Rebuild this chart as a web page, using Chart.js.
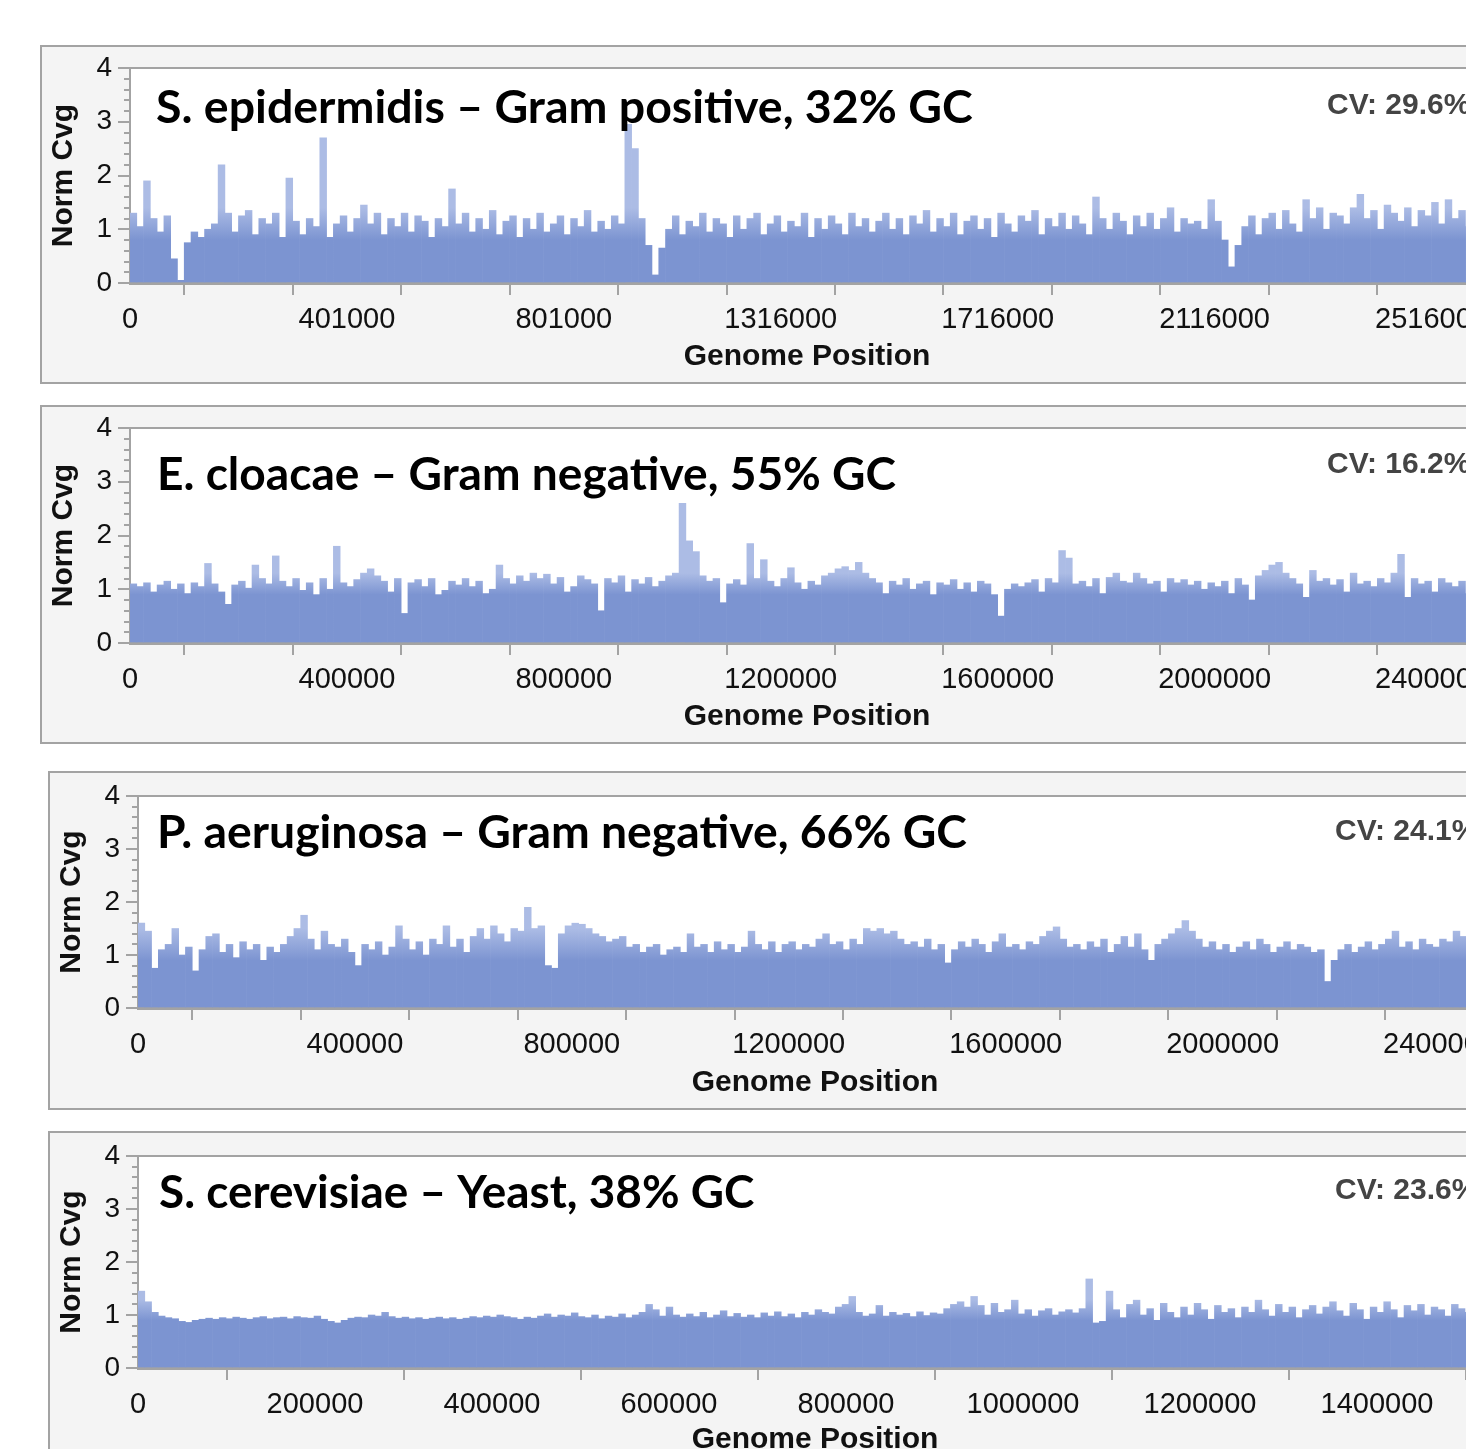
<!DOCTYPE html>
<html>
<head>
<meta charset="utf-8">
<script src="https://cdn.jsdelivr.net/npm/chart.js@4/dist/chart.umd.min.js"></script>
<style>
  html, body { margin: 0; background: #fff; }
  body { width: 1466px; height: 1449px; overflow: hidden; position: relative; }
  canvas { position: absolute; }
</style>
</head>
<body>
<canvas id="c1" width="1530" height="339" style="left:40px;top:45px"></canvas>
<canvas id="c2" width="1530" height="339" style="left:40px;top:405px"></canvas>
<canvas id="c3" width="1530" height="339" style="left:48px;top:771px"></canvas>
<canvas id="c4" width="1530" height="339" style="left:48px;top:1131px"></canvas>
<script>
// normalised coverage per genome bin
const epidermidisBin = 12500;
const epidermidisCvg = [
  1.3, 1.05, 1.9, 1.2, 0.95, 1.25, 0.45, 0.05, 0.75, 0.95,
  0.85, 1.0, 1.1, 2.2, 1.3, 0.95, 1.25, 1.35, 0.9, 1.2,
  1.1, 1.3, 0.85, 1.95, 1.15, 0.9, 1.2, 1.05, 2.7, 0.85,
  1.1, 1.25, 0.95, 1.2, 1.45, 1.1, 1.3, 0.9, 1.2, 1.05,
  1.3, 0.95, 1.25, 1.15, 0.85, 1.2, 1.05, 1.75, 1.1, 1.3,
  0.95, 1.2, 1.0, 1.35, 0.9, 1.15, 1.25, 0.85, 1.2, 1.0,
  1.3, 0.95, 1.1, 1.25, 0.9, 1.2, 1.05, 1.35, 0.95, 1.15,
  1.0, 1.25, 1.1, 2.95, 2.5, 1.2, 0.7, 0.15, 0.65, 1.0,
  1.25, 0.9, 1.15, 1.05, 1.3, 0.95, 1.2, 1.1, 0.85, 1.25,
  1.0, 1.2, 1.3, 0.9, 1.1, 1.25, 0.95, 1.15, 1.05, 1.3,
  0.85, 1.2, 1.0, 1.25, 1.1, 0.9, 1.3, 1.05, 1.2, 0.95,
  1.15, 1.3, 1.0, 1.2, 0.9, 1.25, 1.1, 1.35, 0.95, 1.2,
  1.05, 1.3, 0.9, 1.15, 1.25, 1.0, 1.2, 0.85, 1.3, 1.1,
  0.95, 1.25, 1.15, 1.35, 0.9, 1.2, 1.05, 1.3, 1.0, 1.25,
  1.1, 0.9, 1.6, 1.2, 1.0, 1.3, 1.15, 0.9, 1.25, 1.05,
  1.3, 1.0, 1.2, 1.4, 0.95, 1.2, 1.1, 1.15, 1.0, 1.55,
  1.15, 0.8, 0.3, 0.7, 1.05, 1.25, 0.9, 1.2, 1.3, 1.0,
  1.35, 1.1, 0.95, 1.55, 1.2, 1.4, 1.0, 1.3, 1.25, 1.1,
  1.4, 1.65, 1.2, 1.35, 1.0, 1.45, 1.3, 1.15, 1.4, 1.05,
  1.35, 1.25, 1.5, 1.1, 1.55, 1.2, 1.35, 1.05, 1.45, 1.3
];

const cloacaeBin = 12500;
const cloacaeCvg = [
  1.1, 1.05, 1.12, 0.95, 1.08, 1.15, 1.0, 1.1, 0.92, 1.12,
  1.05, 1.48, 1.1, 0.95, 0.72, 1.08, 1.15, 1.02, 1.45, 1.2,
  1.1, 1.62, 1.15, 1.05, 1.2, 0.98, 1.12, 0.9, 1.2, 1.0,
  1.8, 1.12, 1.05, 1.18, 1.3, 1.38, 1.25, 1.15, 0.95, 1.2,
  0.55, 1.12, 1.18, 1.05, 1.2, 0.9, 0.98, 1.15, 1.08, 1.2,
  1.05, 1.15, 0.92, 1.0, 1.45, 1.2, 1.1, 1.25, 1.15, 1.3,
  1.2, 1.28, 1.1, 1.22, 0.95, 1.05, 1.25, 1.18, 1.1, 0.6,
  1.2, 1.12, 1.25, 0.95, 1.18, 1.1, 1.22, 1.05, 1.15, 1.25,
  1.3, 2.6, 1.9, 1.7, 1.25, 1.15, 1.2, 0.75, 1.1, 1.18,
  1.08, 1.85, 1.2, 1.55, 1.15, 1.05, 1.2, 1.4, 1.12, 1.0,
  1.15, 1.08, 1.25, 1.3, 1.38, 1.42, 1.35, 1.5, 1.3, 1.2,
  1.12, 0.92, 1.15, 1.08, 1.2, 1.0, 1.1, 1.15, 0.9, 1.12,
  1.08, 1.18, 1.0, 1.12, 0.95, 1.15, 1.1, 0.9, 0.5, 1.0,
  1.1, 1.05, 1.12, 1.18, 0.95, 1.2, 1.12, 1.72, 1.58, 1.1,
  1.15, 1.05, 1.2, 0.92, 1.22, 1.3, 1.15, 1.12, 1.3, 1.2,
  1.1, 1.15, 0.95, 1.2, 1.12, 1.18, 1.08, 1.15, 1.0, 1.12,
  1.05, 1.15, 0.92, 1.2, 1.08, 0.8, 1.25, 1.35, 1.45, 1.5,
  1.3, 1.2, 1.1, 0.85, 1.35, 1.15, 1.2, 1.08, 1.18, 0.95,
  1.3, 1.1, 1.15, 1.05, 1.2, 1.12, 1.3, 1.65, 0.85, 1.2,
  1.1, 1.15, 0.95, 1.2, 1.12, 1.05, 1.15, 0.92, 1.18, 1.08
];

const aeruginosaBin = 12500;
const aeruginosaCvg = [
  1.6, 1.45, 0.75, 1.1, 1.2, 1.5, 1.0, 1.15, 0.7, 1.1,
  1.35, 1.4, 1.05, 1.2, 0.95, 1.25, 1.1, 1.2, 0.9, 1.15,
  1.05, 1.2, 1.35, 1.5, 1.75, 1.3, 1.1, 1.45, 1.2, 1.15,
  1.3, 1.05, 0.8, 1.2, 1.1, 1.25, 1.0, 1.15, 1.55, 1.3,
  1.1, 1.25, 1.0, 1.3, 1.2, 1.55, 1.15, 1.3, 1.05, 1.35,
  1.5, 1.3, 1.55, 1.4, 1.25, 1.5, 1.45, 1.9, 1.5, 1.55,
  0.8, 0.75, 1.4, 1.55, 1.6, 1.58, 1.5, 1.4, 1.35, 1.25,
  1.3, 1.35, 1.15, 1.2, 1.05, 1.15, 1.2, 1.0, 1.1, 1.15,
  1.05, 1.4, 1.15, 1.2, 1.05, 1.25, 1.1, 1.2, 1.05, 1.15,
  1.45, 1.2, 1.1, 1.25, 1.05, 1.2, 1.25, 1.1, 1.2, 1.15,
  1.3, 1.4, 1.2, 1.25, 1.1, 1.3, 1.2, 1.5, 1.45, 1.5,
  1.4, 1.45, 1.3, 1.2, 1.25, 1.15, 1.3, 1.1, 1.2, 0.85,
  1.1, 1.25, 1.15, 1.3, 1.2, 1.05, 1.25, 1.4, 1.15, 1.2,
  1.1, 1.25, 1.2, 1.35, 1.45, 1.53, 1.3, 1.15, 1.2, 1.1,
  1.25, 1.15, 1.3, 1.05, 1.2, 1.35, 1.15, 1.4, 1.1, 0.9,
  1.2, 1.3, 1.4, 1.5, 1.65, 1.45, 1.3, 1.15, 1.25, 1.1,
  1.2, 1.05, 1.15, 1.25, 1.1, 1.3, 1.2, 1.05, 1.15, 1.25,
  1.1, 1.2, 1.15, 1.05, 1.1, 0.5, 0.9, 1.1, 1.2, 1.05,
  1.15, 1.25, 1.1, 1.2, 1.3, 1.45, 1.15, 1.25, 1.1, 1.3,
  1.2, 1.15, 1.3, 1.25, 1.45, 1.35, 1.2, 1.3, 1.15, 1.25
];

const cerevisiaeBin = 7650;
const cerevisiaeCvg = [
  1.45, 1.25, 1.05, 0.98, 0.95, 0.93, 0.88, 0.86, 0.9, 0.92,
  0.94, 0.92, 0.95, 0.93, 0.96, 0.94, 0.92, 0.95, 0.97, 0.93,
  0.95, 0.96, 0.93, 0.97, 0.95, 0.94, 0.98, 0.92, 0.88, 0.85,
  0.9, 0.94, 0.96, 0.95, 1.0, 0.98, 1.05, 0.97, 0.94, 0.96,
  0.93, 0.95, 0.92, 0.94, 0.96, 0.93, 0.95, 0.92, 0.94, 0.97,
  0.95, 0.98, 0.96, 1.0, 0.97, 0.95, 0.92, 0.96, 0.94, 0.98,
  1.02, 0.96, 1.0, 0.98, 1.04, 0.97, 0.95, 1.0, 0.93, 0.98,
  0.96, 1.02, 0.95, 1.0, 1.05, 1.2, 1.1, 0.98, 1.15, 1.0,
  0.96, 1.02, 0.97, 1.05, 0.95, 1.0, 1.08, 0.97, 1.03, 0.96,
  1.0, 0.95, 1.04, 0.98, 1.06, 0.97, 1.02, 0.95, 1.05, 1.0,
  1.1, 1.05, 1.02, 1.15, 1.2, 1.35, 1.05, 0.98, 1.02, 1.18,
  0.98, 1.05, 1.0, 1.03, 0.97, 1.06, 0.99, 1.04, 1.02, 1.12,
  1.2, 1.25, 1.15, 1.35, 1.18, 1.0, 1.22, 1.05, 1.1, 1.28,
  1.02, 1.1, 0.98, 1.08, 1.12, 1.0, 1.06, 1.1, 1.04, 1.12,
  1.68, 0.85, 0.88, 1.45, 1.1, 0.95, 1.2, 1.28, 1.0, 1.12,
  0.9, 1.22, 1.05, 0.95, 1.15, 1.0, 1.22, 1.1, 0.92, 1.18,
  1.05, 1.12, 0.95, 1.15, 1.05, 1.28, 1.1, 0.98, 1.2, 1.05,
  1.15, 0.95, 1.1, 1.18, 1.02, 1.15, 1.25, 1.08, 0.98, 1.22,
  1.1, 0.92, 1.15, 1.05, 1.25, 1.1, 0.95, 1.18, 1.08, 1.2,
  1.0, 1.15, 1.1, 0.98, 1.2, 1.12, 1.05, 1.18, 0.95, 1.1
];

// tick labels (blank = unlabelled tick)
const epidermidisTicks = ['0', '', '401000', '', '801000', '', '1316000', '', '1716000', '', '2116000', '', '2516000'];
const cloacaeTicks = ['0', '', '400000', '', '800000', '', '1200000', '', '1600000', '', '2000000', '', '2400000'];
const aeruginosaTicks = ['0', '', '400000', '', '800000', '', '1200000', '', '1600000', '', '2000000', '', '2400000'];
const cerevisiaeTicks = ['0', '200000', '400000', '600000', '800000', '1000000', '1200000', '1400000'];

const titles = [
  'S. epidermidis \u2013 Gram positive, 32% GC',
  'E. cloacae \u2013 Gram negative, 55% GC',
  'P. aeruginosa \u2013 Gram negative, 66% GC',
  'S. cerevisiae \u2013 Yeast, 38% GC'
];
const cvLabels = ['CV: 29.6%', 'CV: 16.2%', 'CV: 24.1%', 'CV: 23.6%'];

const AXIS_FONT = 'Liberation Sans';
const GREY = '#a3a3a3';
const BAR = 'rgb(124,148,209)';
const BAR_LIGHT = 'rgb(172,188,229)';

// layout per panel (canvas pixels)
const panels = [
  { id: 'c1', values: epidermidisCvg, bin: epidermidisBin, ticks: epidermidisTicks, xMax: 2600000, xStep: 200000,
    plotTop: 23, plotBottom: 238, padRight: 30, titleX: 26, titleBase: 55, titleW: 816, cvBase: 46, xTitleY: 74,
    fade: [0.8, 1.4] },
  { id: 'c2', values: cloacaeCvg, bin: cloacaeBin, ticks: cloacaeTicks, xMax: 2600000, xStep: 200000,
    plotTop: 23, plotBottom: 238, padRight: 30, titleX: 27, titleBase: 62, titleW: 739, cvBase: 45, xTitleY: 74,
    fade: [0.9, 1.3] },
  { id: 'c3', values: aeruginosaCvg, bin: aeruginosaBin, ticks: aeruginosaTicks, xMax: 2600000, xStep: 200000,
    plotTop: 25, plotBottom: 237, padRight: 30, titleX: 19, titleBase: 52, titleW: 810, cvBase: 44, xTitleY: 75,
    fade: [0.9, 1.5] },
  { id: 'c4', values: cerevisiaeCvg, bin: cerevisiaeBin, ticks: cerevisiaeTicks, xMax: 1600000, xStep: 200000,
    plotTop: 25, plotBottom: 237, padRight: 24, titleX: 21, titleBase: 52, titleW: 595, cvBase: 43, xTitleY: 72,
    fade: [0.9, 1.3] }
];

const panelDecor = {
  id: 'panelDecor',
  beforeDraw(chart) {
    const { ctx, width, height, chartArea: a } = chart;
    ctx.save();
    ctx.fillStyle = '#f4f4f4';
    ctx.fillRect(0, 0, width, height);
    ctx.strokeStyle = GREY;
    ctx.lineWidth = 2;
    ctx.strokeRect(1, 1, width - 2, height - 2);
    ctx.fillStyle = '#fff';
    ctx.fillRect(a.left, a.top, a.right - a.left, a.bottom - a.top);
    ctx.restore();
  },
  afterDraw(chart, args, opts) {
    const { ctx, chartArea: a } = chart;
    ctx.save();
    ctx.strokeStyle = GREY;
    ctx.lineWidth = 2;
    ctx.beginPath();
    ctx.moveTo(a.left, a.top);
    ctx.lineTo(a.right, a.top);
    ctx.lineTo(a.right, a.bottom);
    ctx.stroke();

    // panel title
    ctx.fillStyle = '#000';
    ctx.textBaseline = 'alphabetic';
    ctx.font = 'bold 100px Lato';
    const size = 100 * opts.titleW / ctx.measureText(opts.title).width;
    ctx.font = 'bold ' + size.toFixed(1) + 'px Lato';
    ctx.fillText(opts.title, a.left + opts.titleX, a.top + opts.titleBase);

    // CV note
    ctx.fillStyle = '#444';
    ctx.font = 'bold 30px "' + AXIS_FONT + '"';
    ctx.fillText(opts.cv, a.left + 1197, a.top + opts.cvBase);

    // x axis title
    ctx.fillStyle = '#111';
    ctx.textAlign = 'center';
    ctx.textBaseline = 'middle';
    ctx.fillText('Genome Position', a.left + 677, a.bottom + opts.xTitleY);
    ctx.restore();
  }
};

panels.forEach((p, k) => {
  const canvas = document.getElementById(p.id);
  const H = canvas.height;
  new Chart(canvas, {
    type: 'bar',
    data: {
      datasets: [{
        data: p.values.map((v, i) => ({ x: (i + 0.5) * p.bin, y: v })),
        backgroundColor(c) {
          const chart = c.chart;
          const y = chart.scales.y;
          if (!chart.chartArea || !y) return BAR;
          const y0 = y.getPixelForValue(0), y4 = y.getPixelForValue(4);
          const g = chart.ctx.createLinearGradient(0, y0, 0, y4);
          g.addColorStop(0, BAR);
          g.addColorStop(p.fade[0] / 4, BAR);
          g.addColorStop(p.fade[1] / 4, BAR_LIGHT);
          g.addColorStop(1, BAR_LIGHT);
          return g;
        },
        borderWidth: 0,
        barPercentage: 1,
        categoryPercentage: 1,
        yAxisID: 'y'
      }]
    },
    options: {
      responsive: false,
      animation: false,
      layout: { padding: { top: p.plotTop, left: 0, right: p.padRight, bottom: 0 } },
      plugins: {
        legend: { display: false },
        tooltip: { enabled: false },
        panelDecor: { title: titles[k], cv: cvLabels[k], titleX: p.titleX, titleBase: p.titleBase, titleW: p.titleW,
                      cvBase: p.cvBase, xTitleY: p.xTitleY }
      },
      scales: {
        x: {
          type: 'linear',
          min: 0,
          max: p.xMax,
          offset: false,
          ticks: {
            stepSize: p.xStep,
            autoSkip: false,
            maxRotation: 0,
            padding: 8,
            color: '#111',
            font: { family: AXIS_FONT, size: 29 },
            callback: (v, i) => p.ticks[i] ?? ''
          },
          grid: { drawOnChartArea: false, tickLength: 12, color: GREY, lineWidth: 2 },
          border: { color: GREY, width: 3 },
          afterFit(s) { s.height = H - p.plotBottom; }
        },
        y: {
          position: 'left',
          weight: 1,
          min: 0,
          max: 4,
          ticks: { stepSize: 1, padding: 6, color: '#111', font: { family: AXIS_FONT, size: 28 } },
          grid: { drawOnChartArea: false, tickLength: 12, color: GREY, lineWidth: 2 },
          border: { color: GREY, width: 2 },
          title: {
            display: true,
            text: 'Norm Cvg',
            color: '#111',
            font: { family: AXIS_FONT, size: 30, weight: 'bold' },
            padding: { top: 6, bottom: 0 }
          },
          afterFit(s) { s.width = 90; }
        },
        yMinor: {
          position: 'left',
          weight: 0,
          min: 0,
          max: 4,
          ticks: { display: false, stepSize: 0.2 },
          grid: { drawOnChartArea: false, tickLength: 6, color: GREY, lineWidth: 2 },
          border: { display: false },
          afterFit(s) { s.width = 0; }
        }
      }
    },
    plugins: [panelDecor]
  });
});
</script>
</body>
</html>
